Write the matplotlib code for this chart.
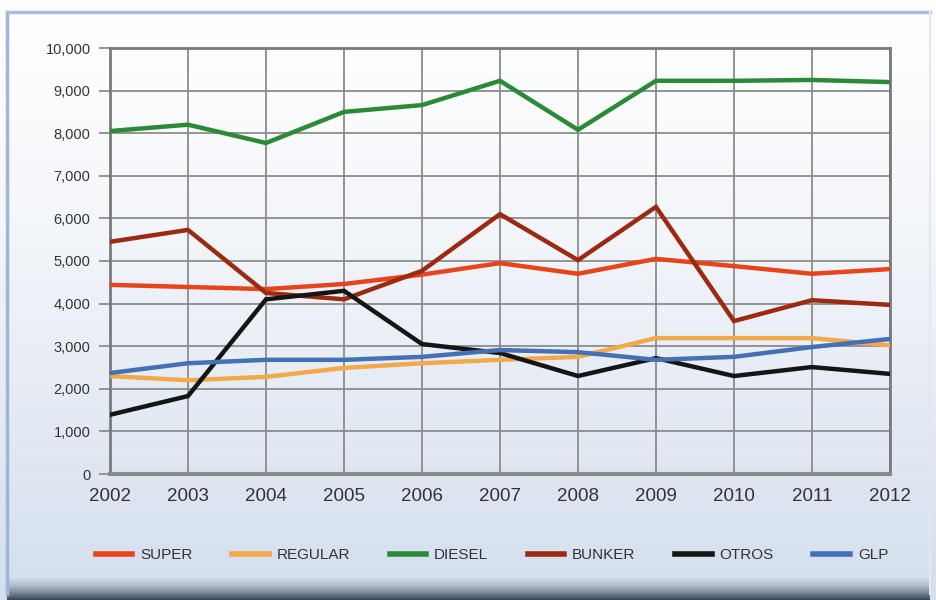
import numpy as np
import matplotlib
matplotlib.use("Agg")
import matplotlib.pyplot as plt
from matplotlib.patches import Rectangle

# datos (miles de barriles aprox.)
years = [2002, 2003, 2004, 2005, 2006, 2007, 2008, 2009, 2010, 2011, 2012]
super_ = [4440, 4390, 4340, 4460, 4680, 4950, 4700, 5050, 4880, 4700, 4810]
regular = [2300, 2200, 2280, 2490, 2600, 2680, 2750, 3190, 3190, 3190, 3020]
diesel = [8050, 8200, 7770, 8500, 8660, 9230, 8080, 9230, 9230, 9250, 9200]
bunker = [5450, 5730, 4250, 4100, 4770, 6100, 5020, 6270, 3590, 4080, 3970]
otros = [1390, 1830, 4100, 4300, 3050, 2840, 2300, 2720, 2300, 2510, 2350]
glp = [2370, 2600, 2680, 2680, 2750, 2910, 2860, 2680, 2750, 2980, 3170]

series = [
    ("SUPER", super_, "#e8441c"),
    ("REGULAR", regular, "#f2a94a"),
    ("DIESEL", diesel, "#2b8a36"),
    ("BUNKER", bunker, "#9c2a10"),
    ("OTROS", otros, "#151515"),
    ("GLP", glp, "#4470b6"),
]

plt.rcParams["font.family"] = ["Liberation Sans", "DejaVu Sans"]

fig = plt.figure(figsize=(9.37, 6.0), dpi=100)

# fondo degradado
bg = fig.add_axes([0, 0, 1, 1], zorder=-10)
grad = np.linspace(0, 1, 256).reshape(-1, 1)
top = np.array([1.0, 1.0, 1.0])
bot = np.array([0.83, 0.87, 0.93])
img = top + (bot - top) * grad[..., None] ** 1.3
bg.imshow(img, aspect="auto", extent=[0, 1, 0, 1], origin="upper")
bg.set_xlim(0, 1)
bg.set_ylim(0, 1)
bg.axis("off")
# marco
bg.plot([0.008, 0.008], [0.01, 0.98], color="#9fb6d6", lw=2.5)
bg.plot([0.008, 0.993], [0.98, 0.98], color="#a9bedb", lw=2.5)
bg.plot([0.993, 0.993], [0.01, 0.98], color="#e4e8ee", lw=1.5)
shadow = np.linspace(0, 1, 32).reshape(-1, 1)
sh = np.array([0.80, 0.84, 0.90]) + (np.array([0.22, 0.27, 0.35]) - np.array([0.80, 0.84, 0.90])) * shadow[..., None] ** 1.5
bg.imshow(sh, aspect="auto", extent=[0.008, 0.993, 0.0, 0.035], origin="upper")

ax = fig.add_axes([0.1174, 0.21, 0.8324, 0.71])
ax.patch.set_alpha(0)
for name, vals, col in series:
    ax.plot(years, vals, color=col, lw=3.2, label=name, solid_joinstyle="miter", zorder=3)

ax.set_xlim(2002, 2012)
ax.set_ylim(0, 10000)
ax.set_xticks(years)
ax.set_yticks(range(0, 10001, 1000))
ax.yaxis.set_major_formatter(matplotlib.ticker.FuncFormatter(lambda v, p: f"{int(v):,}"))
ax.grid(True, color="#8c8c8c", lw=1.3)
ax.tick_params(axis="y", length=8, width=1.3, color="#8c8c8c", labelsize=10.5, labelcolor="#333333", pad=6)
ax.tick_params(axis="x", length=0, labelsize=13.5, labelcolor="#333333", pad=10)
for s in ax.spines.values():
    s.set_color("#7a7a7a")
    s.set_linewidth(2)
ax.spines["bottom"].set_linewidth(3)
ax.spines["bottom"].set_color("#8a8a8a")

leg = fig.legend(loc="center", bbox_to_anchor=(0.525, 0.075), ncol=6, frameon=False,
                 fontsize=11, handlelength=2.4, handletextpad=0.5, columnspacing=2.6)
for line in leg.get_lines():
    line.set_linewidth(4)
for t in leg.get_texts():
    t.set_color("#333333")

fig.savefig("out.png", dpi=100)
